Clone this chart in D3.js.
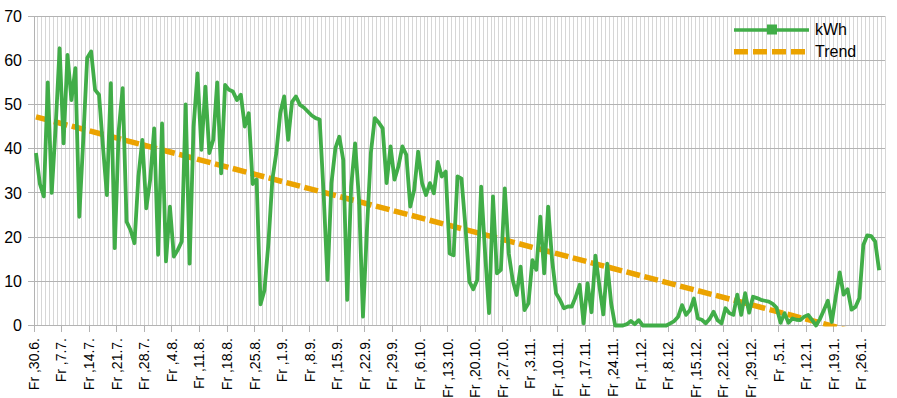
<!DOCTYPE html>
<html>
<head>
<meta charset="utf-8">
<script src="https://cdn.jsdelivr.net/npm/d3@7"></script>
<style>
  html, body { margin: 0; padding: 0; background: #fff; }
  svg { display: block; font-family: "Liberation Sans", Arial, sans-serif; }
</style>
</head>
<body>
<svg id="chart" width="897" height="398"></svg>
<script>
// Daily energy yield (kWh), one value per day starting Fr 30.6.
const kwh = [
  39, 32, 29.2, 55, 30, 45, 62.7, 41.2, 61.2, 51, 58.2, 24.6, 42, 60.5, 62,
  53.3, 52.2, 40.5, 29.5, 54.8, 17.5, 44, 53.7, 23.5, 21.6, 18.6, 33.7, 42, 26.5, 33,
  44.6, 16, 45.7, 14.5, 26.9, 15.6, 17.1, 19, 50, 14, 45, 57, 39.7, 54, 39,
  42, 55, 34.4, 54.4, 53.3, 52.9, 51, 52.2, 45, 48, 32, 33, 4.8, 8, 18.6,
  33, 39, 48, 51.8, 42, 50.6, 51.8, 49.9, 49.3, 48.4, 47.5, 46.9, 46.6, 30, 10.3,
  32.2, 40.1, 42.7, 37.4, 5.8, 31.4, 41.2, 28.4, 2, 21.6, 39, 46.9, 45.9, 44.6, 32.2,
  40.5, 33, 36, 40.5, 38.6, 26.9, 30.7, 39.3, 32.2, 29.5, 32.2, 29.9, 37, 33.7, 34.8,
  16.3, 15.9, 33.7, 33.2, 22.4, 9.9, 8.2, 10.3, 31.4, 16.3, 2.8, 29.2, 11.8, 12.6, 31,
  16.3, 10.3, 6.9, 13.3, 3.5, 5, 14.8, 12.6, 24.6, 11.8, 26.9, 14.8, 7.3, 5.8, 3.9,
  4.3, 4.3, 6.5, 9.2, 0.5, 9.5, 3, 15.8, 9, 2.5, 14, 5, 0, 0, 0,
  0.3, 1, 0.3, 1.2, 0, 0, 0, 0, 0, 0, 0, 0.5, 1, 2, 4.6,
  2.4, 3.5, 6.1, 1.6, 1.3, 0.5, 1.5, 3.1, 1.2, 0.5, 3.9, 2.8, 2.4, 7, 2.4,
  7.3, 2.9, 6.5, 6.2, 5.8, 5.6, 5.4, 4.9, 4, 0.6, 2.8, 0.6, 1.6, 1.3, 1.2,
  2, 2.4, 1.2, 0, 1.5, 3.5, 5.6, 0.8, 6.5, 12, 7, 8.2, 3.6, 4.2, 6.2,
  18.2, 20.4, 20.2, 19, 12.5
];
// Number of day categories on the axis (Fr 30.6. .. 31.1.)
const dayCount = 216;
// Linear trend: value at first and last data day
const trendDays = [0, 214];
const trendValues = [47.2, -2.9];
// Weekly tick labels (every 7 days)
const tickLabels = [
  "Fr ,30.6.", "Fr ,7.7.", "Fr ,14.7.", "Fr ,21.7.", "Fr ,28.7.", "Fr ,4.8.", "Fr ,11.8.",
  "Fr ,18.8.", "Fr ,25.8.", "Fr ,1.9.", "Fr ,8.9.", "Fr ,15.9.", "Fr ,22.9.", "Fr ,29.9.",
  "Fr ,6.10.", "Fr ,13.10.", "Fr ,20.10.", "Fr ,27.10.", "Fr ,3.11.", "Fr ,10.11.",
  "Fr ,17.11.", "Fr ,24.11.", "Fr ,1.12.", "Fr ,8.12.", "Fr ,15.12.", "Fr ,22.12.",
  "Fr ,29.12.", "Fr ,5.1.", "Fr ,12.1.", "Fr ,19.1.", "Fr ,26.1."
];
const yTicks = [0, 10, 20, 30, 40, 50, 60, 70];
const seriesNames = ["kWh", "Trend"];

const svg = d3.select("#chart");
const L = 34, R = 885, T = 16, B = 325.5;

const x = d3.scaleBand().domain(d3.range(dayCount)).range([L, R]).padding(0);
const bw = x.bandwidth();
const xc = i => x(i) + bw / 2;
const xEdge = d3.scaleLinear().domain([0, dayCount]).range([L, R]);
const y = d3.scaleLinear().domain([0, 70]).range([B, T]);

const green = "#41ad48";
const orange = "#eba300";

// minor vertical grid (each day boundary)
svg.append("g").selectAll("line").data(d3.range(1, dayCount + 1)).join("line")
  .attr("x1", d => xEdge(d)).attr("x2", d => xEdge(d))
  .attr("y1", T).attr("y2", B)
  .attr("stroke", "#d6d6d6").attr("stroke-width", 1).attr("shape-rendering", "crispEdges");

// horizontal grid
svg.append("g").selectAll("line").data(yTicks).join("line")
  .attr("x1", L - 6).attr("x2", R)
  .attr("y1", d => y(d)).attr("y2", d => y(d))
  .attr("stroke", "#b3b3b3").attr("stroke-width", 1).attr("shape-rendering", "crispEdges");

// left axis line
svg.append("line").attr("x1", L).attr("x2", L).attr("y1", T).attr("y2", B)
  .attr("stroke", "#b3b3b3").attr("shape-rendering", "crispEdges");

// x ticks
const weekIdx = tickLabels.map((_, k) => k * 7);
svg.append("g").selectAll("line").data(weekIdx).join("line")
  .attr("x1", d => xEdge(d)).attr("x2", d => xEdge(d))
  .attr("y1", B).attr("y2", B + 6)
  .attr("stroke", "#b3b3b3").attr("shape-rendering", "crispEdges");

// y labels
svg.append("g").selectAll("text").data(yTicks).join("text")
  .attr("x", 22).attr("y", d => y(d)).attr("dy", "0.36em")
  .attr("text-anchor", "end").attr("font-size", 16).attr("fill", "#000")
  .text(d => d);

// x labels (rotated)
svg.append("g").selectAll("text").data(weekIdx).join("text")
  .attr("transform", d => `translate(${xEdge(d)},338) rotate(-90)`)
  .attr("dy", "0.35em")
  .attr("text-anchor", "end").attr("font-size", 14).attr("fill", "#000")
  .text((d, k) => tickLabels[k]);

// clip for plot area
svg.append("clipPath").attr("id", "plotclip").append("rect")
  .attr("x", L).attr("y", T - 5).attr("width", R - L).attr("height", B - T + 6);

// trend line
const trendLine = d3.line().x(d => xc(d[0])).y(d => y(d[1]));
svg.append("path")
  .datum(trendDays.map((d, k) => [d, trendValues[k]]))
  .attr("clip-path", "url(#plotclip)")
  .attr("d", trendLine)
  .attr("fill", "none").attr("stroke", orange).attr("stroke-width", 5.5)
  .attr("stroke-dasharray", "14,4.5");

// kWh line
const line = d3.line().x((d, i) => xc(i)).y(d => y(d));
svg.append("path").datum(kwh)
  .attr("d", line)
  .attr("fill", "none").attr("stroke", green).attr("stroke-width", 3.8)
  .attr("stroke-linejoin", "round");

// legend
const lg = svg.append("g");
lg.append("line").attr("x1", 734).attr("x2", 809).attr("y1", 30).attr("y2", 30)
  .attr("stroke", green).attr("stroke-width", 3.5);
lg.append("rect").attr("x", 767).attr("y", 24.5).attr("width", 10).attr("height", 10)
  .attr("fill", green);
lg.append("line").attr("x1", 734).attr("x2", 806).attr("y1", 51.7).attr("y2", 51.7)
  .attr("stroke", orange).attr("stroke-width", 5.5).attr("stroke-dasharray", "14,5");
lg.selectAll("text").data(seriesNames).join("text")
  .attr("x", 815).attr("y", (d, i) => 35 + i * 22.3)
  .attr("font-size", 16).attr("fill", "#000")
  .text(d => d);
</script>
</body>
</html>
